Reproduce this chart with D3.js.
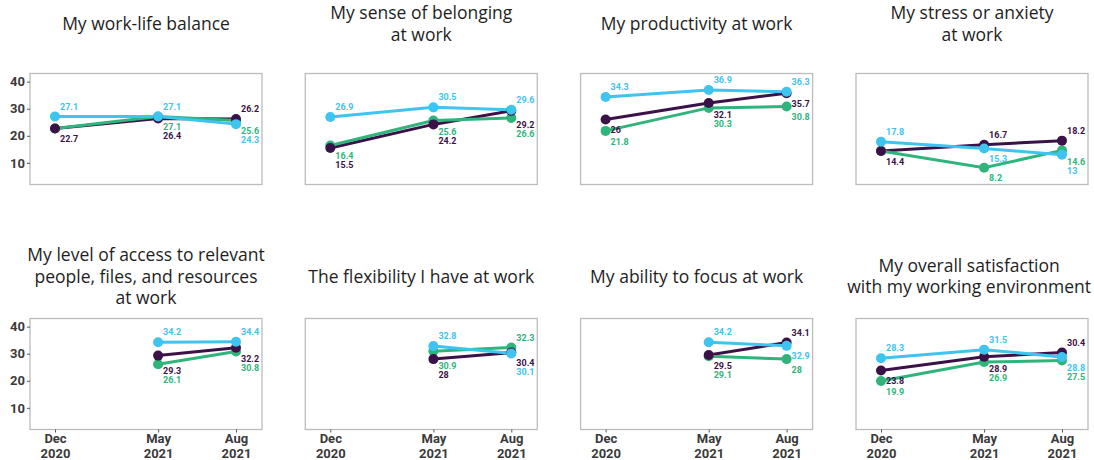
<!DOCTYPE html>
<html>
<head>
<meta charset="utf-8">
<script src="https://cdn.jsdelivr.net/npm/d3@7"></script>
<style>
  body { margin: 0; background: #fff; }
  .title { font-family: "Open Sans", Lato, sans-serif; font-size: 17.5px; fill: #1e1e1e; }
  .axis text { font-family: Roboto, "Liberation Sans", sans-serif; font-size: 13px; font-weight: 700; fill: #3a3a3a; }
  .axis line { stroke: #555; }
  .axis path { display: none; }
  .valueLabel { font-family: Roboto, "Liberation Sans", sans-serif; font-size: 9px; font-weight: 700; }
</style>
</head>
<body>
<div id="chart"></div>
<script>
// survey waves (x axis)
var periodLabels = [["Dec", "2020"], ["May", "2021"], ["Aug", "2021"]];
var surveyDates = [new Date(2020, 11, 15), new Date(2021, 4, 3), new Date(2021, 7, 16)];

var yTicks = [10, 20, 30, 40];

var titles = [
    "My work-life balance",
    "My sense of belonging\nat work",
    "My productivity at work",
    "My stress or anxiety\nat work",
    "My level of access to relevant\npeople, files, and resources\nat work",
    "The flexibility I have at work",
    "My ability to focus at work",
    "My overall satisfaction\nwith my working environment"
];

// one row per panel, one value per survey wave (null = not asked)
var purpleValues = [
    [22.7, 26.4, 26.2], [15.5, 24.2, 29.2], [26, 32.1, 35.7], [14.4, 16.7, 18.2],
    [null, 29.3, 32.2], [null, 28, 30.4], [null, 29.5, 34.1], [23.8, 28.9, 30.4]
];
var greenValues = [
    [22.7, 27.1, 25.6], [16.4, 25.6, 26.6], [21.8, 30.3, 30.8], [14.4, 8.2, 14.6],
    [null, 26.1, 30.8], [null, 30.9, 32.3], [null, 29.1, 28], [19.9, 26.9, 27.5]
];
var blueValues = [
    [27.1, 27.1, 24.3], [26.9, 30.5, 29.6], [34.3, 36.9, 36.3], [17.8, 15.3, 13],
    [null, 34.2, 34.4], [null, 32.8, 30.1], [null, 34.2, 32.9], [28.3, 31.5, 28.8]
];

var series = [
    {key: "purple", color: "#3b1248", values: purpleValues},
    {key: "green", color: "#2fb47c", values: greenValues},
    {key: "blue", color: "#3fc3ef", values: blueValues}
];
// order used when two values tie for label placement
var tieOrder = {blue: 0, purple: 1, green: 2};

var width = 1094, height = 460;
var boxW = 232, boxH = 111;
var boxLeft = [30, 305.3, 580.6, 856];
var boxTop = [73.5, 318.5];
var titleMid = [24, 276.5];
var titleLineH = 21.5;

var svg = d3.select("#chart").append("svg")
    .attr("width", width)
    .attr("height", height);

var x = d3.scaleTime()
    .domain([surveyDates[0], surveyDates[2]])
    .range([25, 206]);

var y = d3.scaleLinear()
    .domain([2, 43])
    .range([boxH, 0]);

titles.forEach(function(title, p){
    var row = Math.floor(p / 4), col = p % 4;
    var g = svg.append("g")
        .attr("transform", "translate(" + boxLeft[col] + "," + boxTop[row] + ")");

    //title, centered over the box but kept inside the picture
    var lines = title.split("\n");
    var ty = titleMid[row] - boxTop[row] - (lines.length - 1) / 2 * titleLineH;
    var t = g.append("text")
        .attr("class", "title")
        .attr("text-anchor", "middle")
        .attr("y", ty);
    lines.forEach(function(l, i){
        t.append("tspan").attr("dy", i == 0 ? "0.35em" : titleLineH).text(l);
    });
    var half = d3.max(t.selectAll("tspan").nodes(), function(n){ return n.getComputedTextLength(); }) / 2;
    var tx = Math.min(boxW / 2, width - 3 - boxLeft[col] - half);
    t.selectAll("tspan").attr("x", tx);

    g.append("rect")
        .attr("width", boxW)
        .attr("height", boxH)
        .attr("fill", "#fff")
        .attr("stroke", "#bcbcbc")
        .attr("stroke-width", 1.3);

    if (col == 0) {
        g.append("g").attr("class", "axis")
            .call(d3.axisLeft(y).tickValues(yTicks).tickSize(3).tickPadding(2));
    }

    if (row == 1) {
        var xa = g.append("g").attr("class", "axis")
            .attr("transform", "translate(0," + boxH + ")")
            .call(d3.axisBottom(x).tickValues(surveyDates).tickSize(3).tickFormat(""));
        xa.selectAll(".tick text").remove();
        xa.selectAll(".tick").append("text")
            .attr("fill", "#3a3a3a")
            .attr("text-anchor", "middle")
            .each(function(d, i){
                var el = d3.select(this);
                periodLabels[i].forEach(function(s, j){
                    el.append("tspan").attr("x", 0).attr("y", 13 + j * 15).text(s);
                });
            });
    }

    var line = d3.line()
        .defined(function(v){ return v != null; })
        .x(function(v, i){ return x(surveyDates[i]); })
        .y(function(v){ return y(v); });

    series.forEach(function(s){
        g.append("path")
            .attr("d", line(s.values[p]))
            .attr("fill", "none")
            .attr("stroke", s.color)
            .attr("stroke-width", 3);
    });

    ["green", "purple", "blue"].forEach(function(k){
        var s = series.find(function(d){ return d.key == k; });
        g.selectAll(null)
            .data(s.values[p].map(function(v, i){ return {v: v, i: i}; }).filter(function(d){ return d.v != null; }))
            .enter().append("circle")
            .attr("cx", function(d){ return x(surveyDates[d.i]); })
            .attr("cy", function(d){ return y(d.v); })
            .attr("r", 5)
            .attr("fill", s.color);
    });

    //value labels: highest one above its point, the rest stacked below
    surveyDates.forEach(function(date, i){
        var pts = series.map(function(s){ return {key: s.key, color: s.color, v: s.values[p][i]}; })
            .filter(function(d){ return d.v != null; });
        pts.sort(function(a, b){ return b.v - a.v || tieOrder[a.key] - tieOrder[b.key]; });
        var prevY = -Infinity, prevV = null;
        pts.forEach(function(d, k){
            var py = y(d.v), ly;
            if (k == 0) {
                ly = py - 10;
            } else {
                if (k > 1 && d.v == prevV) return;   // coincident point, one label only
                ly = Math.max(py + 10.5, prevY + 9);
                // nudge off a lower point sitting just above the label
                pts.slice(k + 1).forEach(function(o){
                    var oy = y(o.v);
                    if (ly - oy > 1 && ly - oy < 7) ly = oy + 7;
                });
                prevY = ly;
                prevV = d.v;
            }
            g.append("text")
                .attr("class", "valueLabel")
                .attr("x", x(date) + 5)
                .attr("y", ly)
                .attr("dy", "0.35em")
                .attr("fill", d.color)
                .text(d.v);
        });
    });
});
</script>
</body>
</html>
